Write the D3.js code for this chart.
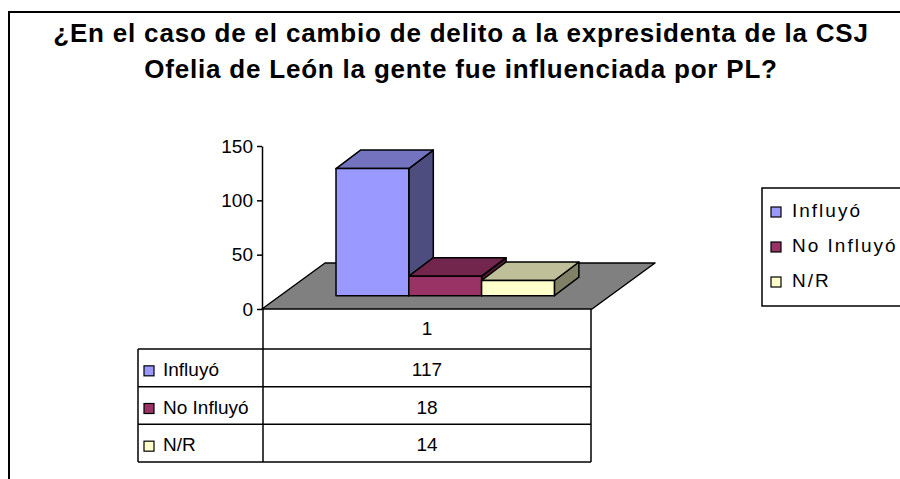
<!DOCTYPE html>
<html><head><meta charset="utf-8">
<script src="https://cdn.jsdelivr.net/npm/d3@7"></script>
<style>
body{margin:0;background:#fff}
svg{display:block}
text{font-family:"Liberation Sans",Arial,sans-serif;fill:#000}
</style>
</head><body>
<svg id="c" width="900" height="479"></svg>
<script>
// ---- data ----
const titleLines = ["¿En el caso de el cambio de delito a la expresidenta de la CSJ",
                    "Ofelia de León la gente fue influenciada por PL?"];
const categories = ["1"];
const seriesNames = ["Influyó", "No Influyó", "N/R"];
const seriesValues = [117, 18, 14];
const yTickValues = [0, 50, 100, 150];

// ---- styles ----
const frontColors = ["#9999FF", "#993366", "#FFFFCC"];
const topColors   = ["#7373BF", "#73264D", "#BFBF99"];
const sideColors  = ["#4D4D80", "#4D1A33", "#808066"];

const svg = d3.select("#c");

// outer frame (extends beyond the window on right & bottom)
svg.append("rect").attr("x", 9).attr("y", 12).attr("width", 1000).attr("height", 1000)
  .attr("fill", "#fff").attr("stroke", "#000").attr("stroke-width", 2);

// title
svg.append("g").selectAll("text").data(titleLines).join("text")
  .attr("x", 461).attr("y", (d, i) => 41.5 + i * 36.5)
  .attr("text-anchor", "middle").attr("font-size", 26).attr("font-weight", "bold")
  .attr("letter-spacing", 0.8)
  .text(d => d);

// ---- scales ----
const y = d3.scaleLinear().domain([0, 150]).range([309, 146]);
const xCat = d3.scaleBand().domain(categories).range([262, 592]);
const inset = 55.8;
const xSer = d3.scaleBand().domain(seriesNames)
  .range([xCat(categories[0]) + inset, xCat(categories[0]) + xCat.bandwidth() - inset]);

const floorDepth = {dx: 63, dy: -46};
const barOffset = {dx: 18.2, dy: -13.3};
const barDepth = {dx: 24.5, dy: -18.5};

// floor
const fx0 = xCat.range()[0], fx1 = xCat.range()[1], fy = y(0);
svg.append("polygon")
  .attr("points", [[fx0, fy], [fx1, fy], [fx1 + floorDepth.dx, fy + floorDepth.dy], [fx0 + floorDepth.dx, fy + floorDepth.dy]].map(p => p.join(",")).join(" "))
  .attr("fill", "#808080").attr("stroke", "#000").attr("stroke-width", 1.5).attr("stroke-linejoin", "round");

// bars
const bars = svg.append("g");
seriesNames.forEach((s, i) => {
  const v = seriesValues[i];
  const x0 = xSer(s) + barOffset.dx, x1 = x0 + xSer.bandwidth();
  const yb = y(0) + barOffset.dy;
  const yt = yb - (y(0) - y(v));
  const dx = barDepth.dx, dy = barDepth.dy;
  const g = bars.append("g").attr("stroke", "#000").attr("stroke-width", 1.5).attr("stroke-linejoin", "round");
  g.append("polygon").attr("fill", sideColors[i])
    .attr("points", [[x1, yb], [x1 + dx, yb + dy], [x1 + dx, yt + dy], [x1, yt]].map(p => p.join(",")).join(" "));
  g.append("polygon").attr("fill", topColors[i])
    .attr("points", [[x0, yt], [x1, yt], [x1 + dx, yt + dy], [x0 + dx, yt + dy]].map(p => p.join(",")).join(" "));
  g.append("rect").attr("fill", frontColors[i])
    .attr("x", x0).attr("y", yt).attr("width", x1 - x0).attr("height", yb - yt);
});

// y axis
const ax = svg.append("g").attr("transform", `translate(${fx0},0)`)
  .call(d3.axisLeft(y).tickValues(yTickValues).tickSize(5).tickSizeOuter(0).tickPadding(4));
ax.select(".domain").attr("stroke", "#000").attr("stroke-width", 1.5);
ax.selectAll(".tick line").attr("stroke", "#000").attr("stroke-width", 1.5);
ax.selectAll(".tick text").attr("font-size", 19).attr("font-family", "'Liberation Sans',Arial,sans-serif").attr("fill", "#000");

// ---- data table ----
const tbl = svg.append("g");
const tLeft = 138, tMid = fx0 + 1, tRight = fx1 - 1;
const rowY = d3.scaleBand().domain(seriesNames).range([349, 462]);
const lineAttrs = sel => sel.attr("stroke", "#000").attr("stroke-width", 1.5);
lineAttrs(tbl.append("line").attr("x1", tMid).attr("x2", tMid).attr("y1", 309).attr("y2", 462));
lineAttrs(tbl.append("line").attr("x1", tRight).attr("x2", tRight).attr("y1", 309).attr("y2", 462));
lineAttrs(tbl.append("line").attr("x1", tLeft).attr("x2", tLeft).attr("y1", 349).attr("y2", 462));
[349, ...seriesNames.map(s => rowY(s) + rowY.bandwidth())].forEach(yy => {
  lineAttrs(tbl.append("line").attr("x1", tLeft).attr("x2", tRight).attr("y1", yy).attr("y2", yy));
});
const colCenter = (tMid + tRight) / 2;
tbl.append("text").attr("x", colCenter).attr("y", 335).attr("text-anchor", "middle")
  .attr("font-size", 19).text(categories[0]);
seriesNames.forEach((s, i) => {
  const base = rowY(s) + rowY.bandwidth() / 2 + 8;
  tbl.append("rect").attr("x", 144).attr("y", base - 10).attr("width", 10).attr("height", 10)
    .attr("fill", frontColors[i]).attr("stroke", "#000").attr("stroke-width", 1.2);
  tbl.append("text").attr("x", 163).attr("y", base).attr("font-size", 19).text(s);
  tbl.append("text").attr("x", colCenter).attr("y", base).attr("text-anchor", "middle")
    .attr("font-size", 19).text(seriesValues[i]);
});

// ---- legend ----
const lg = svg.append("g");
lg.append("rect").attr("x", 762).attr("y", 188).attr("width", 300).attr("height", 118)
  .attr("fill", "#fff").attr("stroke", "#000").attr("stroke-width", 1.5);
seriesNames.forEach((s, i) => {
  const base = 217 + i * 35;
  lg.append("rect").attr("x", 771).attr("y", base - 10).attr("width", 10).attr("height", 10)
    .attr("fill", frontColors[i]).attr("stroke", "#000").attr("stroke-width", 1.2);
  lg.append("text").attr("x", 792).attr("y", base).attr("font-size", 19)
    .attr("letter-spacing", 2).text(s);
});
</script>
</body></html>
